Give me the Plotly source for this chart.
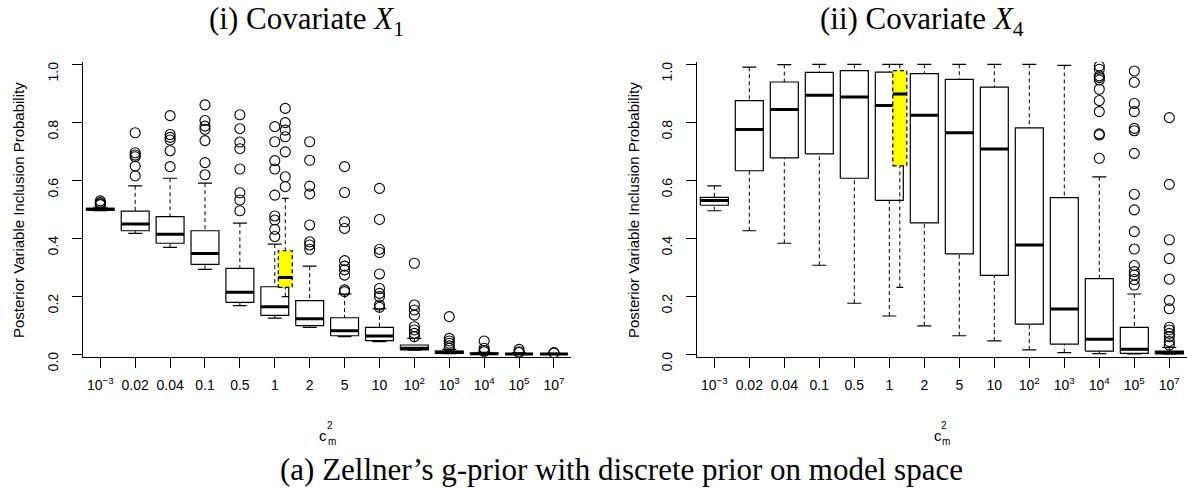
import plotly.graph_objects as go

# ---------------- data ----------------
categories = ["10<sup>\u22123</sup>", "0.02", "0.04", "0.1", "0.5", "1", "2", "5", "10",
              "10<sup>2</sup>", "10<sup>3</sup>", "10<sup>4</sup>", "10<sup>5</sup>", "10<sup>7</sup>"]
positions = list(range(1, 15))
y_ticks = [0.0, 0.2, 0.4, 0.6, 0.8, 1.0]
y_ticktext = ["0.0", "0.2", "0.4", "0.6", "0.8", "1.0"]

# Covariate X1
x1_low = [0.494, 0.416, 0.368, 0.292, 0.167, 0.124, 0.092, 0.060, 0.043, 0.013, 0.001, 0.000, 0.000, 0.000]
x1_q1 = [0.496, 0.425, 0.382, 0.309, 0.178, 0.133, 0.098, 0.063, 0.046, 0.014, 0.002, 0.000, 0.000, 0.000]
x1_med = [0.499, 0.448, 0.413, 0.347, 0.213, 0.163, 0.122, 0.080, 0.062, 0.020, 0.006, 0.001, 0.000, 0.000]
x1_q3 = [0.502, 0.493, 0.474, 0.425, 0.295, 0.232, 0.184, 0.125, 0.092, 0.031, 0.010, 0.003, 0.002, 0.001]
x1_high = [0.506, 0.580, 0.606, 0.589, 0.451, 0.379, 0.303, 0.207, 0.156, 0.054, 0.016, 0.006, 0.004, 0.002]
x1_out = [
    [0.528, 0.522, 0.518, 0.515],
    [0.763, 0.694, 0.686, 0.680, 0.648, 0.614],
    [0.822, 0.757, 0.747, 0.738, 0.701, 0.646],
    [0.859, 0.805, 0.786, 0.775, 0.736, 0.660, 0.618],
    [0.825, 0.777, 0.731, 0.708, 0.638, 0.556, 0.531, 0.494],
    [0.784, 0.732, 0.667, 0.638, 0.548, 0.476, 0.462, 0.430, 0.405],
    [0.732, 0.668, 0.579, 0.552, 0.445, 0.387, 0.376, 0.361],
    [0.646, 0.557, 0.456, 0.433, 0.322, 0.303, 0.290, 0.272, 0.221, 0.215],
    [0.571, 0.464, 0.361, 0.350, 0.276, 0.226, 0.209, 0.198, 0.169, 0.161],
    [0.313, 0.169, 0.152, 0.134, 0.094, 0.083, 0.071, 0.060],
    [0.129, 0.054, 0.045, 0.037, 0.028, 0.020],
    [0.045, 0.020, 0.012, 0.008],
    [0.016, 0.008, 0.005],
    [0.005, 0.003],
]
# highlighted (yellow) box for X1, drawn next to c^2 = 1
x1_hl_pos = 6.3
x1_hl_low, x1_hl_q1, x1_hl_med, x1_hl_q3, x1_hl_high = 0.198, 0.230, 0.264, 0.356, 0.537
x1_hl_out = [0.847, 0.798, 0.772, 0.749, 0.697, 0.611, 0.577]

# Covariate X4
x4_low = [0.494, 0.425, 0.382, 0.306, 0.175, 0.131, 0.097, 0.063, 0.045, 0.014, 0.005, 0.001, 0.000, 0.000]
x4_q1 = [0.513, 0.632, 0.676, 0.690, 0.606, 0.530, 0.452, 0.345, 0.271, 0.103, 0.034, 0.010, 0.002, 0.000]
x4_med = [0.529, 0.774, 0.843, 0.892, 0.886, 0.857, 0.823, 0.763, 0.707, 0.376, 0.155, 0.051, 0.016, 0.005]
x4_q3 = [0.540, 0.874, 0.938, 0.971, 0.977, 0.972, 0.967, 0.947, 0.920, 0.780, 0.539, 0.260, 0.092, 0.010]
x4_high = [0.580, 0.989, 0.998, 0.999, 0.999, 0.999, 0.999, 0.999, 0.999, 0.999, 0.995, 0.611, 0.207, 0.023]
x4_out = [
    [], [], [], [], [], [], [], [], [], [], [],
    [0.993, 0.982, 0.959, 0.953, 0.945, 0.913, 0.874, 0.836, 0.759, 0.755, 0.675],
    [0.976, 0.937, 0.864, 0.836, 0.778, 0.770, 0.692, 0.551, 0.497, 0.422, 0.362, 0.305,
     0.284, 0.272, 0.257, 0.238],
    [0.815, 0.585, 0.394, 0.329, 0.258, 0.185, 0.156, 0.092, 0.083, 0.071, 0.060, 0.043, 0.031],
]
x4_hl_pos = 6.3
x4_hl_low, x4_hl_q1, x4_hl_med, x4_hl_q3, x4_hl_high = 0.230, 0.649, 0.897, 0.977, 0.999
x4_hl_out = []

# ---------------- figure ----------------
W, H = 1187, 488
BOX_HALF = 0.4
STAPLE_HALF = 0.2
HL_HALF = 0.2
HL_STAPLE = 0.1
SANS = "Liberation Sans"
SERIF = "Liberation Serif"
AX_FONT = dict(family=SANS, size=14, color="black")

fig = go.Figure()


def segs(pairs):
    xs, ys = [], []
    for (xa, ya, xb, yb) in pairs:
        xs += [xa, xb, None]
        ys += [ya, yb, None]
    return xs, ys


def add_boxes(pos, low, q1, med, q3, high, outs, xa, ya, half, staple, fill, dashed_border):
    # box bodies
    bx, by = [], []
    for p, a, b in zip(pos, q1, q3):
        bx += [p - half, p + half, p + half, p - half, p - half, None]
        by += [a, a, b, b, a, None]
    fig.add_trace(go.Scatter(x=bx, y=by, mode="lines", xaxis=xa, yaxis=ya,
                             fill="toself", fillcolor=fill,
                             line=dict(color="black", width=1.2,
                                       dash="4px,3px" if dashed_border else "solid"),
                             hoverinfo="skip", showlegend=False))
    # whiskers (dashed)
    wx, wy = segs([(p, h, p, c) for p, h, c in zip(pos, high, q3)] +
                  [(p, l, p, c) for p, l, c in zip(pos, low, q1)])
    fig.add_trace(go.Scatter(x=wx, y=wy, mode="lines", xaxis=xa, yaxis=ya,
                             line=dict(color="black", width=1, dash="4px,3px"),
                             hoverinfo="skip", showlegend=False))
    # staples
    sx, sy = segs([(p - staple, v, p + staple, v) for p, v in zip(pos, high)] +
                  [(p - staple, v, p + staple, v) for p, v in zip(pos, low)])
    fig.add_trace(go.Scatter(x=sx, y=sy, mode="lines", xaxis=xa, yaxis=ya,
                             line=dict(color="black", width=1.2),
                             hoverinfo="skip", showlegend=False))
    # medians
    mx, my = segs([(p - half, m, p + half, m) for p, m in zip(pos, med)])
    fig.add_trace(go.Scatter(x=mx, y=my, mode="lines", xaxis=xa, yaxis=ya,
                             line=dict(color="black", width=3),
                             hoverinfo="skip", showlegend=False))
    # outliers
    ox, oy = [], []
    for p, o in zip(pos, outs):
        ox += [p] * len(o)
        oy += list(o)
    if ox:
        fig.add_trace(go.Scatter(x=ox, y=oy, mode="markers", xaxis=xa, yaxis=ya,
                                 marker=dict(symbol="circle-open", size=10,
                                             color="black", line=dict(width=1.1)),
                                 hoverinfo="skip", showlegend=False))


add_boxes(positions, x1_low, x1_q1, x1_med, x1_q3, x1_high, x1_out, "x", "y",
          BOX_HALF, STAPLE_HALF, "white", False)
add_boxes([x1_hl_pos], [x1_hl_low], [x1_hl_q1], [x1_hl_med], [x1_hl_q3], [x1_hl_high],
          [x1_hl_out], "x", "y", HL_HALF, HL_STAPLE, "#ffff00", True)
add_boxes(positions, x4_low, x4_q1, x4_med, x4_q3, x4_high, x4_out, "x2", "y2",
          BOX_HALF, STAPLE_HALF, "white", False)
add_boxes([x4_hl_pos], [x4_hl_low], [x4_hl_q1], [x4_hl_med], [x4_hl_q3], [x4_hl_high],
          [x4_hl_out], "x2", "y2", HL_HALF, HL_STAPLE, "#ffff00", True)

y_dom = [1 - 356.7 / H, 1 - 61.7 / H]
xax = dict(range=[0.5, 14.5], tickmode="array", tickvals=positions, ticktext=categories,
           ticks="outside", ticklen=10, tickwidth=1, tickcolor="black",
           showline=True, linecolor="black", linewidth=1.2, showgrid=False, zeroline=False,
           tickfont=AX_FONT, ticklabelstandoff=5, fixedrange=True, automargin=False)
yax = dict(range=[-0.0093, 1.008], tickmode="array", tickvals=y_ticks, ticktext=y_ticktext,
           ticks="outside", ticklen=10, tickwidth=1, tickcolor="black", tickangle=-89.9,
           showline=True, linecolor="black", linewidth=1.2, showgrid=False, zeroline=False,
           tickfont=AX_FONT, ticklabelstandoff=18, fixedrange=True, automargin=False)

fig.update_layout(
    template="none",
    width=W, height=H, autosize=False,
    margin=dict(l=0, r=0, t=0, b=0, pad=0),
    paper_bgcolor="white", plot_bgcolor="rgba(0,0,0,0)",
    showlegend=False,
    xaxis=dict(domain=[82.85 / W, 571.4 / W], anchor="y", **xax),
    yaxis=dict(domain=y_dom, anchor="x", **yax),
    xaxis2=dict(domain=[696.8 / W, 1186.8 / W], anchor="y2", **xax),
    yaxis2=dict(domain=y_dom, anchor="x2", **yax),
)

ann = []
# panel titles
for txt, cx in (("(i) Covariate <i>X</i><sub>1</sub>", 306.5), ("(ii) Covariate <i>X</i><sub>4</sub>", 922)):
    ann.append(dict(text=txt, x=cx / W, y=1.0, xref="paper", yref="paper", showarrow=False,
                    xanchor="center", yanchor="top", borderpad=0,
                    font=dict(family=SERIF, size=31, color="black")))
# caption
ann.append(dict(text="(a) Zellner\u2019s g-prior with discrete prior on model space",
                x=621 / W, y=0.0, xref="paper", yref="paper", showarrow=False,
                xanchor="center", yanchor="bottom", borderpad=0,
                font=dict(family=SERIF, size=31, color="black")))
# y-axis titles
for cx in (18, 633):
    ann.append(dict(text="Posterior Variable Inclusion Probability", x=cx / W, y=1 - 210 / H,
                    xref="paper", yref="paper", showarrow=False, textangle=-90,
                    xanchor="center", yanchor="middle",
                    font=dict(family=SANS, size=15, color="black")))
# x-axis titles c_m^2
for cx in (327, 941.8):
    ann.append(dict(text="c", x=(cx - 4) / W, y=1 - 435 / H, xref="paper", yref="paper",
                    showarrow=False, xanchor="center", yanchor="middle",
                    font=dict(family=SANS, size=15, color="black")))
    ann.append(dict(text="2", x=(cx + 2.5) / W, y=1 - 425 / H, xref="paper", yref="paper",
                    showarrow=False, xanchor="center", yanchor="middle",
                    font=dict(family=SANS, size=10, color="black")))
    ann.append(dict(text="m", x=(cx + 4.5) / W, y=1 - 441 / H, xref="paper", yref="paper",
                    showarrow=False, xanchor="center", yanchor="middle",
                    font=dict(family=SANS, size=10, color="black")))
fig.update_layout(annotations=ann)

fig.write_html("out.html")
